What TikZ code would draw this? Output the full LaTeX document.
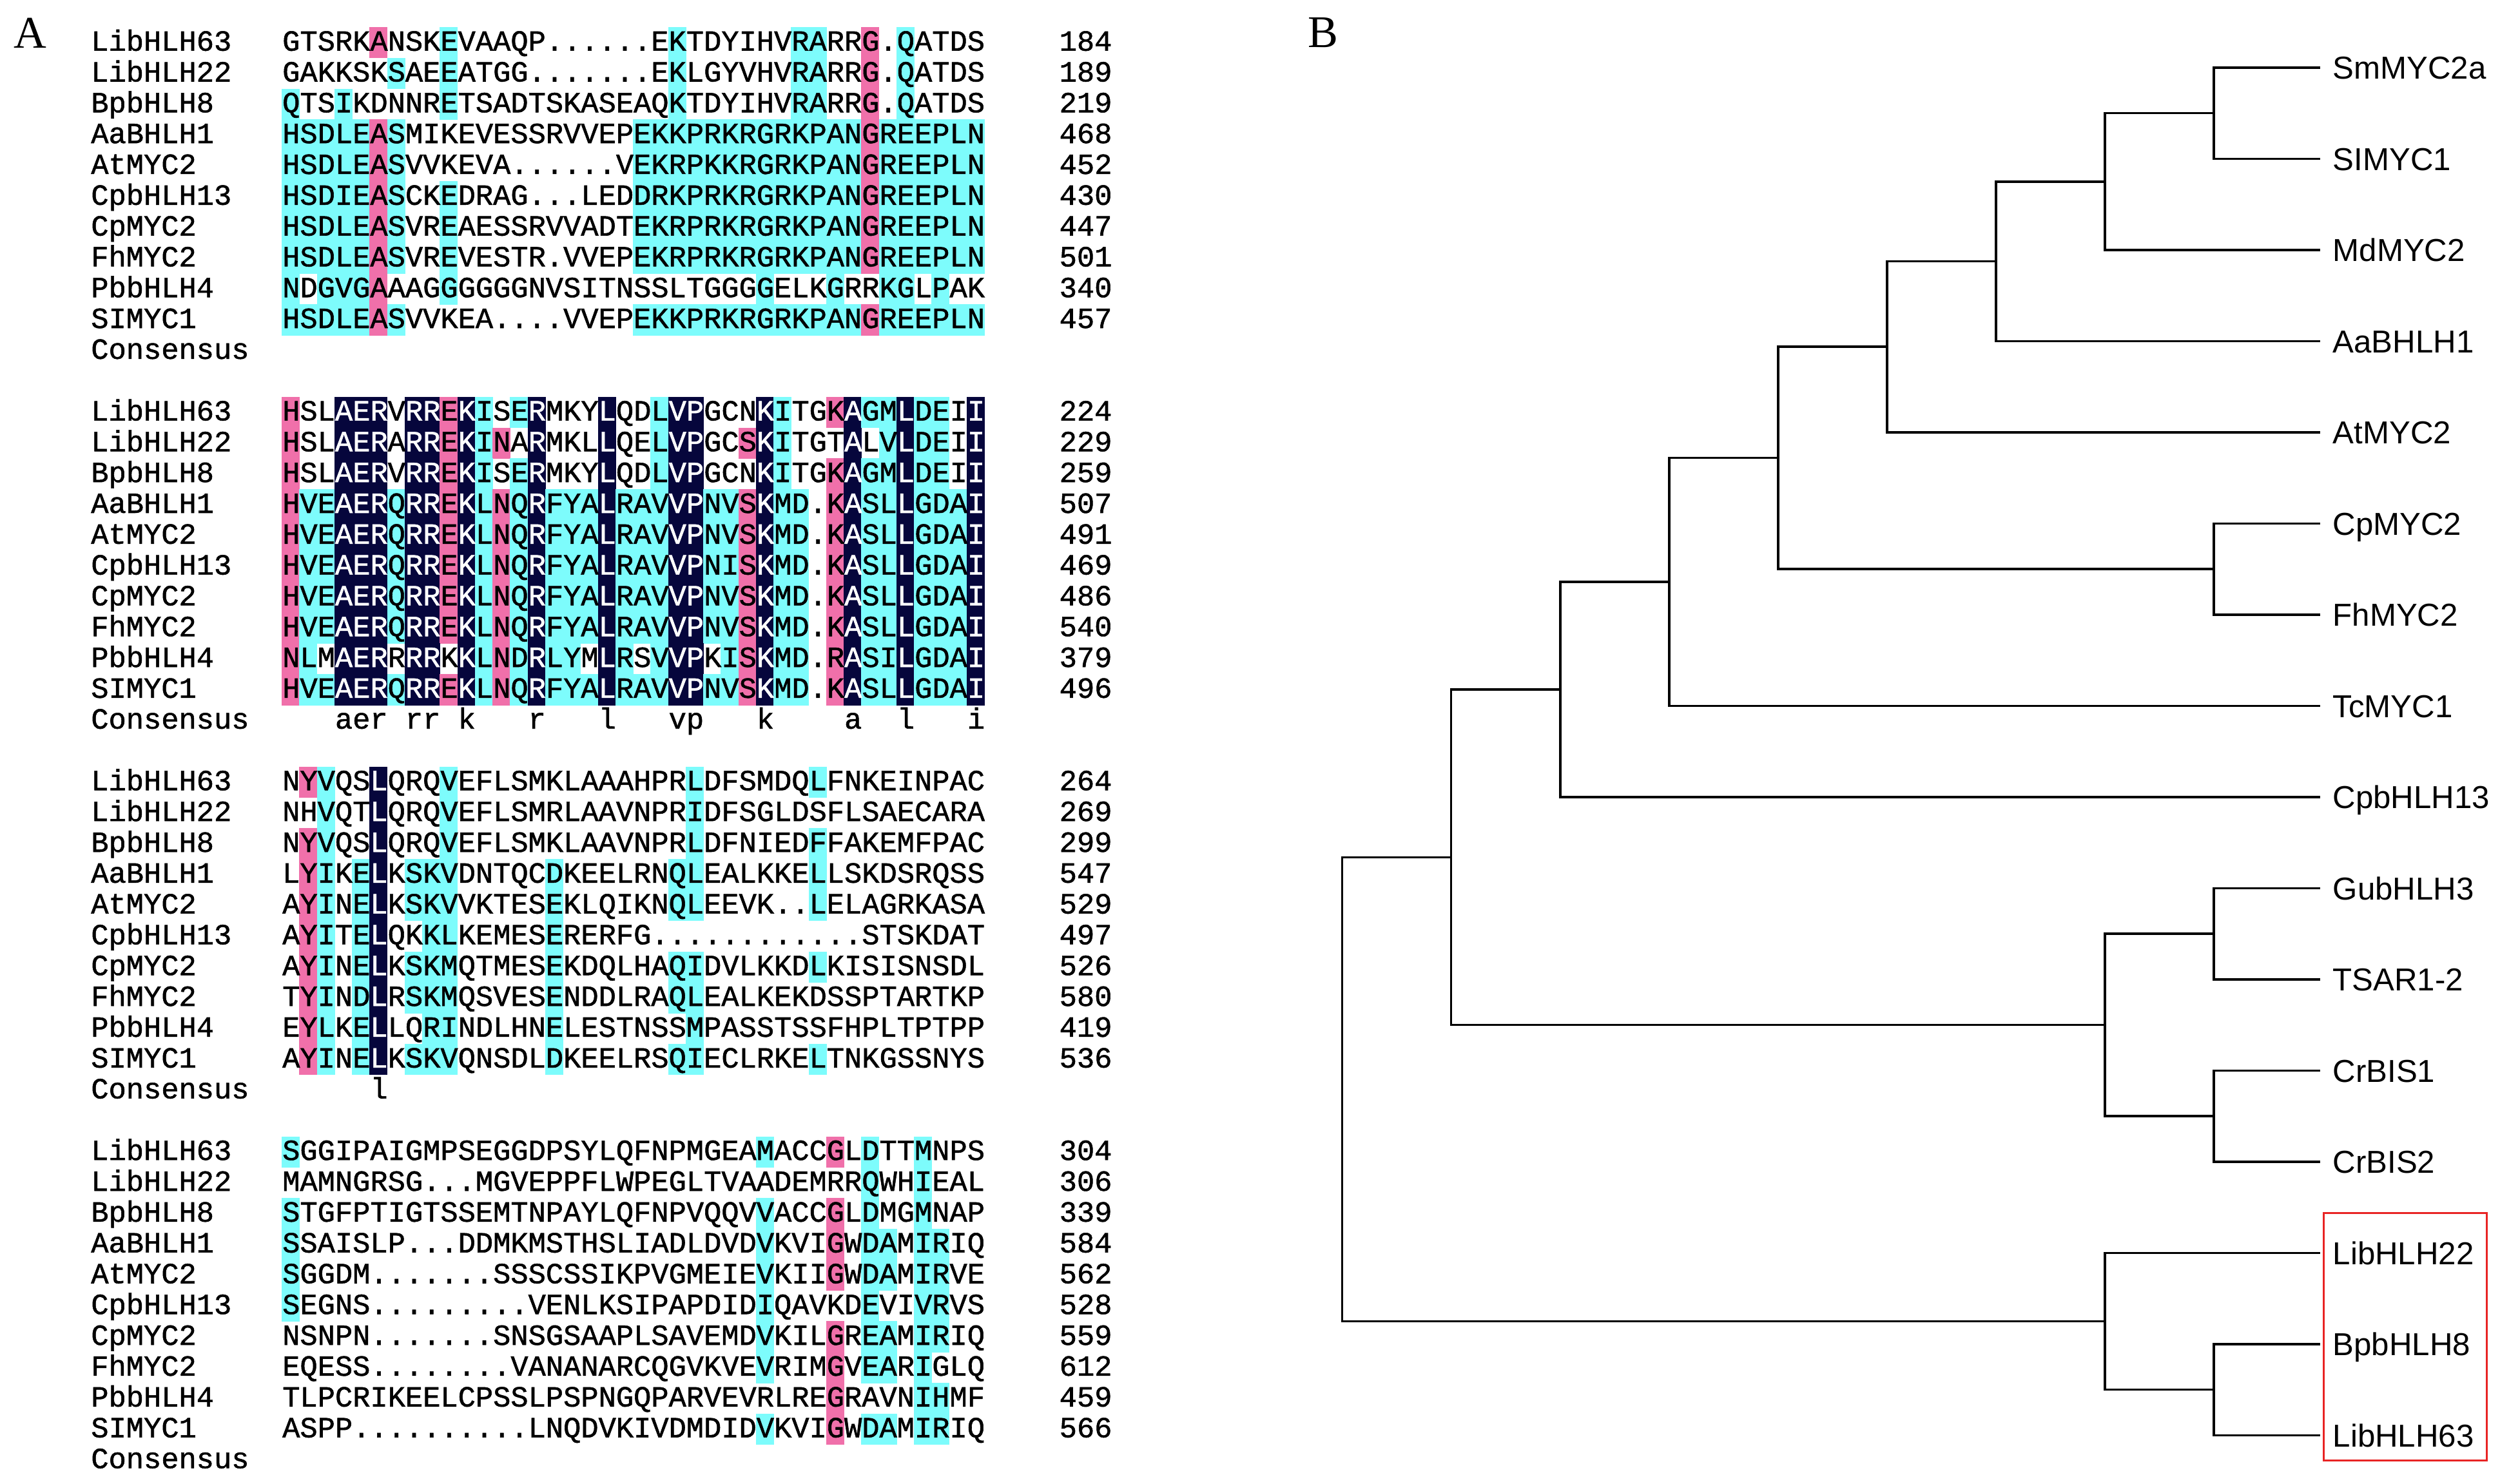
\documentclass[tikz,border=0pt]{standalone}
\usepackage{fontspec}
\usepackage{tikz}
\newfontfamily\seqfont[FakeBold=1.2]{Liberation Mono}
\newfontfamily\treefont{Liberation Sans}
\newfontfamily\panelfont{Liberation Serif}
\definecolor{cyanbg}{RGB}{125,252,252}
\definecolor{pinkbg}{RGB}{240,112,170}
\definecolor{navybg}{RGB}{6,6,60}
\definecolor{boxred}{RGB}{232,36,36}

% alignment rows: residues + one colour code per column (c cyan, p pink, n navy)
\newcount\seqcol
\newtoks\seqtoks
\def\seqend{\seqend}
\def\popcode#1#2\codeend{\def\curcode{#1}\def\restcode{#2}}
\def\seqcell{%
  \pgfmathsetmacro\cellx{4.372+0.2725*\the\seqcol}%
  \if c\curcode\fill[cyanbg] (\cellx,\rowy-0.242) rectangle ++(0.278,0.484);\fi
  \if p\curcode\fill[pinkbg] (\cellx,\rowy-0.242) rectangle ++(0.278,0.484);\fi
  \if n\curcode\fill[navybg] (\cellx,\rowy-0.242) rectangle ++(0.278,0.484);\fi}
\def\seqscan#1{%
  \ifx#1\seqend\else
    \expandafter\popcode\restcode\codeend
    \seqcell
    \ifx#1-\seqtoks=\expandafter{\the\seqtoks\hphantom{a}}%
    \else\if n\curcode\seqtoks=\expandafter{\the\seqtoks\textcolor{white}{#1}}%
    \else\seqtoks=\expandafter{\the\seqtoks#1}\fi\fi
    \advance\seqcol by 1
    \expandafter\seqscan
  \fi}
\newcommand{\seqrow}[6]{%
  \pgfmathsetmacro\rowy{22.358-0.4782*#2}%
  \seqtoks={}\seqcol=0
  \def\restcode{#5........................................}%
  \seqscan#4\seqend
  \node[seqtext] (#1n) at (1.406,\rowy) {#3};
  \node[seqtext] (#1s) at (4.375,\rowy) {\the\seqtoks};
  \node[seqtext] (#1c) at (16.43,\rowy) {#6};
}
\newcommand{\consrow}[3]{%
  \pgfmathsetmacro\rowy{22.358-0.4782*#2}%
  \seqtoks={}\seqcol=0
  \def\restcode{........................................}%
  \seqscan#3\seqend
  \node[seqtext] (#1n) at (1.406,\rowy) {Consensus};
  \node[seqtext] (#1s) at (4.375,\rowy) {\the\seqtoks};
}

\begin{document}
\begin{tikzpicture}[
    seqtext/.style={anchor=base west, inner sep=0pt, yshift=-0.125cm,
      font=\seqfont\fontsize{12.92}{14}\selectfont},
    panel/.style={inner sep=0pt, font=\panelfont\fontsize{20}{22}\selectfont},
    leaf/.style={anchor=west, inner xsep=0.19cm, inner ysep=0pt,
      text height=0.36cm, text depth=0pt, font=\treefont\fontsize{14}{16}\selectfont},
    branch/.style={line width=1pt, black}]
        \useasboundingbox (0,0) rectangle (38.79,23.02);

        \node[panel] (pA) at (0.47,22.51) {A};
        \node[panel] (pB) at (20.53,22.51) {B};

        %block 1
        \seqrow{b1r0}{0}{LibHLH63}{GTSRKANSKEVAAQP......EKTDYIHVRARRG.QATDS}{.....p...c .......... ..c......c c..p.c....}{184}
        \seqrow{b1r1}{1}{LibHLH22}{GAKKSKSAEEATGG.......EKLGYVHVRARRG.QATDS}{......c..c .......... ..c......c c..p.c....}{189}
        \seqrow{b1r2}{2}{BpbHLH8}{QTSIKDNNRETSADTSKASEAQKTDYIHVRARRG.QATDS}{c..c.....c .......... ..c......c c..p.c....}{219}
        \seqrow{b1r3}{3}{AaBHLH1}{HSDLEASMIKEVESSRVVEPEKKPRKRGRKPANGREEPLN}{cccccpc... .......... cccccccccc cccpcccccc}{468}
        \seqrow{b1r4}{4}{AtMYC2}{HSDLEASVVKEVA......VEKRPKKRGRKPANGREEPLN}{cccccpc... .......... cccccccccc cccpcccccc}{452}
        \seqrow{b1r5}{5}{CpbHLH13}{HSDIEASCKEDRAG...LEDDRKPRKRGRKPANGREEPLN}{cccccpc..c .......... cccccccccc cccpcccccc}{430}
        \seqrow{b1r6}{6}{CpMYC2}{HSDLEASVREAESSRVVADTEKRPRKRGRKPANGREEPLN}{cccccpc..c .......... cccccccccc cccpcccccc}{447}
        \seqrow{b1r7}{7}{FhMYC2}{HSDLEASVREVESTR.VVEPEKRPRKRGRKPANGREEPLN}{cccccpc..c .......... cccccccccc cccpcccccc}{501}
        \seqrow{b1r8}{8}{PbbHLH4}{NDGVGAAAGGGGGGNVSITNSSLTGGGGELKGRRKGLPAK}{c.cccp...c .......... .......c.. .c..cc.c..}{340}
        \seqrow{b1r9}{9}{SIMYC1}{HSDLEASVVKEA....VVEPEKKPRKRGRKPANGREEPLN}{cccccpc... .......... cccccccccc cccpcccccc}{457}
        \consrow{b1co}{10}{}

        %block 2
        \seqrow{b2r0}{12}{LibHLH63}{HSLAERVRREKISERMKYLQDLVPGCNKITGKAGMLDEII}{p..nnn.nnp nc.cn...n. .cnn...nc. .pnccncc.n}{224}
        \seqrow{b2r1}{13}{LibHLH22}{HSLAERARREKINARMKLLQELVPGCSKITGTALVLDEII}{p..nnn.nnp ncp.n...n. .cnn..pnc. ..n.cncc.n}{229}
        \seqrow{b2r2}{14}{BpbHLH8}{HSLAERVRREKISERMKYLQDLVPGCNKITGKAGMLDEII}{p..nnn.nnp nc.cn...n. .cnn...nc. .pnccncc.n}{259}
        \seqrow{b2r3}{15}{AaBHLH1}{HVEAERQRREKLNQRFYALRAVVPNVSKMD.KASLLGDAI}{pccnnncnnp ncpcncccnc ccnnccpncc .pnccncccn}{507}
        \seqrow{b2r4}{16}{AtMYC2}{HVEAERQRREKLNQRFYALRAVVPNVSKMD.KASLLGDAI}{pccnnncnnp ncpcncccnc ccnnccpncc .pnccncccn}{491}
        \seqrow{b2r5}{17}{CpbHLH13}{HVEAERQRREKLNQRFYALRAVVPNISKMD.KASLLGDAI}{pccnnncnnp ncpcncccnc ccnnccpncc .pnccncccn}{469}
        \seqrow{b2r6}{18}{CpMYC2}{HVEAERQRREKLNQRFYALRAVVPNVSKMD.KASLLGDAI}{pccnnncnnp ncpcncccnc ccnnccpncc .pnccncccn}{486}
        \seqrow{b2r7}{19}{FhMYC2}{HVEAERQRREKLNQRFYALRAVVPNVSKMD.KASLLGDAI}{pccnnncnnp ncpcncccnc ccnnccpncc .pnccncccn}{540}
        \seqrow{b2r8}{20}{PbbHLH4}{NLMAERRRRKKLNDRLYMLRSVVPKISKMD.RASILGDAI}{pc.nnn.nn. ncpcncc.nc .cnn.cpncc .pnccncccn}{379}
        \seqrow{b2r9}{21}{SIMYC1}{HVEAERQRREKLNQRFYALRAVVPNVSKMD.KASLLGDAI}{pccnnncnnp ncpcncccnc ccnnccpncc .pnccncccn}{496}
        \consrow{b2co}{22}{---aer-rr-k---r---l---vp---k----a--l---i}

        %block 3
        \seqrow{b3r0}{24}{LibHLH63}{NYVQSLQRQVEFLSMKLAAAHPRLDFSMDQLFNKEINPAC}{.pc..n...c .......... ...c...... c.........}{264}
        \seqrow{b3r1}{25}{LibHLH22}{NHVQTLQRQVEFLSMRLAAVNPRIDFSGLDSFLSAECARA}{..c..n...c .......... ...c...... ..........}{269}
        \seqrow{b3r2}{26}{BpbHLH8}{NYVQSLQRQVEFLSMKLAAVNPRLDFNIEDFFAKEMFPAC}{.pc..n...c .......... ...c...... c.........}{299}
        \seqrow{b3r3}{27}{AaBHLH1}{LYIKELKSKVDNTQCDKEELRNQLEALKKELLSKDSRQSS}{.pc.cn.ccc .....c.... ..cc...... c.........}{547}
        \seqrow{b3r4}{28}{AtMYC2}{AYINELKSKVVKTESEKLQIKNQLEEVK..LELAGRKASA}{.pc.cn.ccc .....c.... ..cc...... c.........}{529}
        \seqrow{b3r5}{29}{CpbHLH13}{AYITELQKKLKEMESERERFG............STSKDAT}{.pc.cn..cc .....c.... .......... ..........}{497}
        \seqrow{b3r6}{30}{CpMYC2}{AYINELKSKMQTMESEKDQLHAQIDVLKKDLKISISNSDL}{.pc.cn.ccc .....c.... ..cc...... c.........}{526}
        \seqrow{b3r7}{31}{FhMYC2}{TYINDLRSKMQSVESENDDLRAQLEALKEKDSSPTARTKP}{.pc.cn.ccc .....c.... ..cc...... ..........}{580}
        \seqrow{b3r8}{32}{PbbHLH4}{EYLKELLQRINDLHNELESTNSSMPASSTSSFHPLTPTPP}{.pc.cn..cc .....c.... ...c...... ..........}{419}
        \seqrow{b3r9}{33}{SIMYC1}{AYINELKSKVQNSDLDKEELRSQIECLRKELTNKGSSNYS}{.pc.cn.ccc .....c.... ..cc...... c.........}{536}
        \consrow{b3co}{34}{-----l}

        %block 4
        \seqrow{b4r0}{36}{LibHLH63}{SGGIPAIGMPSEGGDPSYLQFNPMGEAMACCGLDTTMNPS}{c......... .......... .......c.. .p.c..c...}{304}
        \seqrow{b4r1}{37}{LibHLH22}{MAMNGRSG...MGVEPPFLWPEGLTVAADEMRRQWHIEAL}{.......... .......... .......... ...c..c...}{306}
        \seqrow{b4r2}{38}{BpbHLH8}{STGFPTIGTSSEMTNPAYLQFNPVQQVVACCGLDMGMNAP}{c......... .......... .......c.. .p.c..c...}{339}
        \seqrow{b4r3}{39}{AaBHLH1}{SSAISLP...DDMKMSTHSLIADLDVDVKVIGWDAMIRIQ}{c......... .......... .......c.. .p.cc.cc..}{584}
        \seqrow{b4r4}{40}{AtMYC2}{SGGDM.......SSSCSSIKPVGMEIEVKIIGWDAMIRVE}{c......... .......... .......c.. .p.cc.cc..}{562}
        \seqrow{b4r5}{41}{CpbHLH13}{SEGNS.........VENLKSIPAPDIDIQAVKDEVIVRVS}{c......... .......... .......c.. ...c..cc..}{528}
        \seqrow{b4r6}{42}{CpMYC2}{NSNPN.......SNSGSAAPLSAVEMDVKILGREAMIRIQ}{.......... .......... .......c.. .p.cc.cc..}{559}
        \seqrow{b4r7}{43}{FhMYC2}{EQESS........VANANARCQGVKVEVRIMGVEARIGLQ}{.......... .......... .......c.. .p.cc.c...}{612}
        \seqrow{b4r8}{44}{PbbHLH4}{TLPCRIKEELCPSSLPSPNGQPARVEVRLREGRAVNIHMF}{.......... .......... .......... .p....cc..}{459}
        \seqrow{b4r9}{45}{SIMYC1}{ASPP..........LNQDVKIVDMDIDVKVIGWDAMIRIQ}{.......... .......... .......c.. .p.cc.cc..}{566}
        \consrow{b4co}{46}{}

        %tree leaves
        \node[leaf] (lfSm) at (36.0,21.971) {SmMYC2a};
        \node[leaf] (lfSl) at (36.0,20.556) {SIMYC1};
        \node[leaf] (lfMd) at (36.0,19.141) {MdMYC2};
        \node[leaf] (lfAa) at (36.0,17.726) {AaBHLH1};
        \node[leaf] (lfAt) at (36.0,16.311) {AtMYC2};
        \node[leaf] (lfCp) at (36.0,14.896) {CpMYC2};
        \node[leaf] (lfFh) at (36.0,13.481) {FhMYC2};
        \node[leaf] (lfTc) at (36.0,12.066) {TcMYC1};
        \node[leaf] (lfCpb) at (36.0,10.651) {CpbHLH13};
        \node[leaf] (lfGu) at (36.0,9.236) {GubHLH3};
        \node[leaf] (lfTs) at (36.0,7.821) {TSAR1-2};
        \node[leaf] (lfCr1) at (36.0,6.406) {CrBIS1};
        \node[leaf] (lfCr2) at (36.0,4.991) {CrBIS2};
        \node[leaf] (lfLi22) at (36.0,3.576) {LibHLH22};
        \node[leaf] (lfBp) at (36.0,2.161) {BpbHLH8};
        \node[leaf] (lfLi63) at (36.0,0.746) {LibHLH63};

        %tree internal nodes
        \coordinate (nSmSl) at (34.350,21.264);
        \coordinate (nMd) at (32.660,20.202);
        \coordinate (nAa) at (30.970,18.964);
        \coordinate (nAt) at (29.279,17.638);
        \coordinate (nCpFh) at (34.350,14.189);
        \coordinate (nMyc) at (27.589,15.913);
        \coordinate (nTc) at (25.898,13.990);
        \coordinate (nCpb) at (24.208,12.320);
        \coordinate (nGuTs) at (34.350,8.529);
        \coordinate (nCr) at (34.350,5.699);
        \coordinate (nGuCr) at (32.660,7.114);
        \coordinate (nBis) at (22.517,9.717);
        \coordinate (nBpLi) at (34.350,1.454);
        \coordinate (nLib) at (32.660,2.515);
        \coordinate (nRoot) at (20.827,6.116);

        \draw[branch] (nRoot) |- (nBis);
        \draw[branch] (nRoot) |- (nLib);
        \draw[branch] (nBis) |- (nCpb);
        \draw[branch] (nBis) |- (nGuCr);
        \draw[branch] (nCpb) |- (nTc);
        \draw[branch] (nCpb) |- (lfCpb);
        \draw[branch] (nTc) |- (nMyc);
        \draw[branch] (nTc) |- (lfTc);
        \draw[branch] (nMyc) |- (nAt);
        \draw[branch] (nMyc) |- (nCpFh);
        \draw[branch] (nAt) |- (nAa);
        \draw[branch] (nAt) |- (lfAt);
        \draw[branch] (nAa) |- (nMd);
        \draw[branch] (nAa) |- (lfAa);
        \draw[branch] (nMd) |- (nSmSl);
        \draw[branch] (nMd) |- (lfMd);
        \draw[branch] (nSmSl) |- (lfSm);
        \draw[branch] (nSmSl) |- (lfSl);
        \draw[branch] (nCpFh) |- (lfCp);
        \draw[branch] (nCpFh) |- (lfFh);
        \draw[branch] (nGuCr) |- (nGuTs);
        \draw[branch] (nGuCr) |- (nCr);
        \draw[branch] (nGuTs) |- (lfGu);
        \draw[branch] (nGuTs) |- (lfTs);
        \draw[branch] (nCr) |- (lfCr1);
        \draw[branch] (nCr) |- (lfCr2);
        \draw[branch] (nLib) |- (lfLi22);
        \draw[branch] (nLib) |- (nBpLi);
        \draw[branch] (nBpLi) |- (lfBp);
        \draw[branch] (nBpLi) |- (lfLi63);

        \draw[boxred, line width=0.9pt] (36.055,4.194) rectangle (38.586,0.352);
\end{tikzpicture}
\end{document}
